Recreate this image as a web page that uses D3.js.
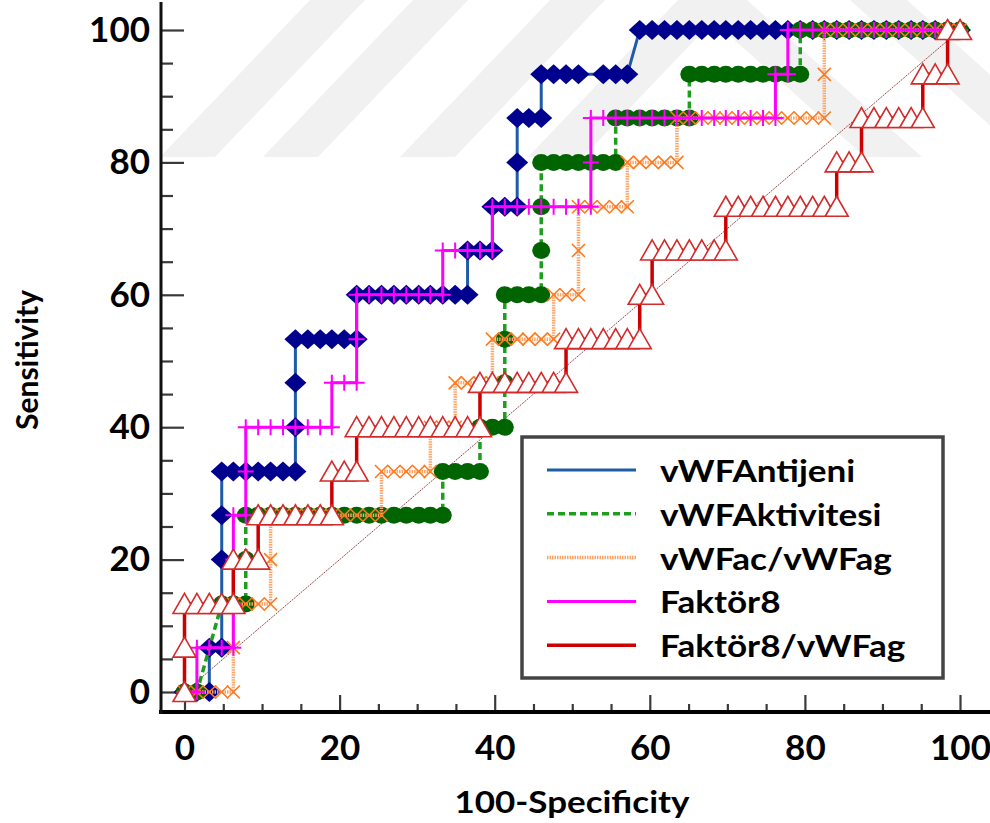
<!DOCTYPE html>
<html>
<head>
<meta charset="utf-8">
<script src="https://cdn.jsdelivr.net/npm/d3@7"></script>
<style>
body{margin:0;background:#fff;}
svg{display:block;}
text{font-family:Lato,'Open Sans',sans-serif;font-weight:bold;fill:#000;}
</style>
</head>
<body>
<div id="chart"></div>
<script>
//DATA (x = 100-Specificity, y = Sensitivity)
var vwfAntijeni = [[0,0],[1.6,0],[3.2,0],[3.2,6.7],[4.8,6.7],[4.8,13.3],[4.8,20],[4.8,26.7],[4.8,33.3],[6.3,33.3],[7.9,33.3],[9.5,33.3],[11.1,33.3],[12.7,33.3],[14.3,33.3],[14.3,40],[14.3,46.7],[14.3,53.3],[15.9,53.3],[17.5,53.3],[19,53.3],[20.6,53.3],[22.2,53.3],[22.2,60],[23.8,60],[25.4,60],[27,60],[28.6,60],[30.2,60],[31.7,60],[33.3,60],[34.9,60],[36.5,60],[36.5,66.7],[38.1,66.7],[39.7,66.7],[39.7,73.3],[41.3,73.3],[42.9,73.3],[42.9,80],[42.9,86.7],[44.4,86.7],[46,86.7],[46,93.3],[47.6,93.3],[49.2,93.3],[50.8,93.3],[54,93.3],[55.6,93.3],[57.1,93.3],[58.7,100],[60.3,100],[61.9,100],[63.5,100],[65.1,100],[66.7,100],[68.3,100],[69.8,100],[71.4,100],[73,100],[74.6,100],[76.2,100],[77.8,100],[79.4,100],[81,100],[82.5,100],[84.1,100],[85.7,100],[87.3,100],[88.9,100],[90.5,100],[92.1,100],[93.7,100],[95.2,100],[96.8,100],[98.4,100],[100,100]];

var vwfAktivitesi = [[0,0],[1.6,0],[4.8,13.3],[6.3,13.3],[7.9,13.3],[7.9,20],[7.9,26.7],[9.5,26.7],[11.1,26.7],[12.7,26.7],[14.3,26.7],[15.9,26.7],[17.5,26.7],[19,26.7],[20.6,26.7],[22.2,26.7],[23.8,26.7],[25.4,26.7],[27,26.7],[28.6,26.7],[30.2,26.7],[31.7,26.7],[33.3,26.7],[33.3,33.3],[34.9,33.3],[36.5,33.3],[38.1,33.3],[38.1,40],[39.7,40],[41.3,40],[41.3,46.7],[41.3,53.3],[41.3,60],[42.9,60],[44.4,60],[46,60],[46,66.7],[46,73.3],[46,80],[47.6,80],[49.2,80],[50.8,80],[52.4,80],[54,80],[55.6,80],[55.6,86.7],[57.1,86.7],[58.7,86.7],[60.3,86.7],[61.9,86.7],[63.5,86.7],[65.1,86.7],[65.1,93.3],[66.7,93.3],[68.3,93.3],[69.8,93.3],[71.4,93.3],[73,93.3],[74.6,93.3],[76.2,93.3],[77.8,93.3],[79.4,93.3],[79.4,100],[81,100],[82.5,100],[84.1,100],[85.7,100],[87.3,100],[88.9,100],[90.5,100],[92.1,100],[93.7,100],[95.2,100],[96.8,100],[98.4,100],[100,100]];

var vwfAcAg = [[0,0],[1.6,0],[3.2,0],[4.8,0],[6.3,0],[6.3,6.7],[6.3,13.3],[7.9,13.3],[9.5,13.3],[11.1,13.3],[11.1,20],[11.1,26.7],[12.7,26.7],[14.3,26.7],[15.9,26.7],[17.5,26.7],[19,26.7],[20.6,26.7],[22.2,26.7],[23.8,26.7],[25.4,26.7],[25.4,33.3],[27,33.3],[28.6,33.3],[30.2,33.3],[31.7,33.3],[31.7,40],[33.3,40],[34.9,40],[34.9,46.7],[36.5,46.7],[38.1,46.7],[39.7,46.7],[39.7,53.3],[41.3,53.3],[42.9,53.3],[44.4,53.3],[46,53.3],[47.6,53.3],[47.6,60],[49.2,60],[50.8,60],[50.8,66.7],[50.8,73.3],[52.4,73.3],[54,73.3],[55.6,73.3],[57.1,73.3],[57.1,80],[58.7,80],[60.3,80],[61.9,80],[63.5,80],[63.5,86.7],[65.1,86.7],[66.7,86.7],[68.3,86.7],[69.8,86.7],[71.4,86.7],[73,86.7],[74.6,86.7],[76.2,86.7],[77.8,86.7],[79.4,86.7],[81,86.7],[82.5,86.7],[82.5,93.3],[82.5,100],[84.1,100],[85.7,100],[87.3,100],[88.9,100],[90.5,100],[92.1,100],[93.7,100],[95.2,100],[96.8,100],[98.4,100],[100,100]];

var faktor8 = [[0,0],[1.6,0],[1.6,6.7],[3.2,6.7],[4.8,6.7],[6.3,6.7],[6.3,13.3],[6.3,20],[6.3,26.7],[7.9,26.7],[7.9,33.3],[7.9,40],[9.5,40],[11.1,40],[12.7,40],[14.3,40],[15.9,40],[17.5,40],[19,40],[19,46.7],[20.6,46.7],[22.2,46.7],[22.2,53.3],[22.2,60],[23.8,60],[25.4,60],[27,60],[28.6,60],[30.2,60],[31.7,60],[33.3,60],[33.3,66.7],[34.9,66.7],[36.5,66.7],[38.1,66.7],[39.7,66.7],[39.7,73.3],[41.3,73.3],[42.9,73.3],[44.4,73.3],[46,73.3],[47.6,73.3],[49.2,73.3],[50.8,73.3],[52.4,73.3],[52.4,80],[52.4,86.7],[54,86.7],[55.6,86.7],[57.1,86.7],[58.7,86.7],[60.3,86.7],[61.9,86.7],[63.5,86.7],[65.1,86.7],[66.7,86.7],[68.3,86.7],[69.8,86.7],[71.4,86.7],[73,86.7],[74.6,86.7],[76.2,86.7],[76.2,93.3],[77.8,93.3],[77.8,100],[79.4,100],[81,100],[82.5,100],[84.1,100],[85.7,100],[87.3,100],[88.9,100],[90.5,100],[92.1,100],[93.7,100],[95.2,100],[96.8,100],[98.4,100],[100,100]];

var faktor8Ag = [[0,0],[0,6.7],[0,13.3],[1.6,13.3],[3.2,13.3],[4.8,13.3],[6.3,13.3],[6.3,20],[7.9,20],[9.5,20],[9.5,26.7],[11.1,26.7],[12.7,26.7],[14.3,26.7],[15.9,26.7],[17.5,26.7],[19,26.7],[19,33.3],[20.6,33.3],[22.2,33.3],[22.2,40],[23.8,40],[25.4,40],[27,40],[28.6,40],[30.2,40],[31.7,40],[33.3,40],[34.9,40],[36.5,40],[38.1,40],[38.1,46.7],[39.7,46.7],[41.3,46.7],[42.9,46.7],[44.4,46.7],[46,46.7],[47.6,46.7],[49.2,46.7],[49.2,53.3],[50.8,53.3],[52.4,53.3],[54,53.3],[55.6,53.3],[57.1,53.3],[58.7,53.3],[58.7,60],[60.3,60],[60.3,66.7],[61.9,66.7],[63.5,66.7],[65.1,66.7],[66.7,66.7],[68.3,66.7],[69.8,66.7],[69.8,73.3],[71.4,73.3],[73,73.3],[74.6,73.3],[76.2,73.3],[77.8,73.3],[79.4,73.3],[81,73.3],[82.5,73.3],[84.1,73.3],[84.1,80],[85.7,80],[87.3,80],[87.3,86.7],[88.9,86.7],[90.5,86.7],[92.1,86.7],[93.7,86.7],[95.2,86.7],[95.2,93.3],[96.8,93.3],[98.4,93.3],[98.4,100],[100,100]];

var seriesNames = ['vWFAntijeni','vWFAktivitesi','vWFac/vWFag','Faktör8','Faktör8/vWFag'];
var diagonal = [[0,0],[100,100]];

var xMajorTicks = [0,20,40,60,80,100];
var xMinorTicks = [5,10,15,25,30,35,45,50,55,65,70,75,85,90,95];
var yMajorTicks = [0,20,40,60,80,100];
var yMinorTicks = [5,10,15,25,30,35,45,50,55,65,70,75,85,90,95];

//STYLES
var series = [
	{name: seriesNames[0], data: vwfAntijeni, line: '#1f5ca8', dash: null, width: 3,
	 mark: 'M0,-10L11,0L0,10L-11,0Z', mFill: '#00008f', mStroke: 'none', mWidth: 0},
	{name: seriesNames[1], data: vwfAktivitesi, line: '#1e9e1e', dash: '7,4', width: 3.5,
	 mark: 'circle', mFill: '#006400', mStroke: 'none', mWidth: 0},
	{name: seriesNames[2], data: vwfAcAg, line: '#ffa366', dash: '1.5,1', width: 3.5,
	 mark: 'M-6.5,-6.5L6.5,6.5M6.5,-6.5L-6.5,6.5', mFill: 'none', mStroke: '#ff7a1f', mWidth: 1.6},
	{name: seriesNames[3], data: faktor8, line: '#ff00ff', dash: null, width: 3,
	 mark: 'M-8,0H8M0,-8V8', mFill: 'none', mStroke: '#ff00ff', mWidth: 2},
	{name: seriesNames[4], data: faktor8Ag, line: '#cc0000', dash: null, width: 3.5,
	 mark: 'M0,-10.5L11.5,9.5L-11.5,9.5Z', mFill: '#fff', mStroke: '#d42a2a', mWidth: 1.6}
];

var W = 990, H = 823;

var svg = d3.select('#chart').append('svg')
	.attr('width', W)
	.attr('height', H);

//SCALES
var x = d3.scaleLinear().domain([0,100]).range([184.5,960]);
var y = d3.scaleLinear().domain([0,100]).range([692,30]);

//WATERMARK (faint chevron bands)
var wm = svg.append('g').attr('fill', '#f1f1f1');
[160,263,400,528].forEach(function(bx){
	wm.append('polygon')
	.attr('points', [[bx,157],[bx+55,157],[bx+205,0],[bx+150,0]].join(' '));
});
[690,850].forEach(function(tx){
	wm.append('polygon')
	.attr('points', [[tx,0],[tx+57,0],[tx+232,157],[tx+175,157]].join(' '));
});

//AXES
var xAxisG = svg.append('g').attr('transform','translate(0,712)');
xAxisG.call(d3.axisBottom(x).tickValues(xMinorTicks).tickSize(-8).tickFormat(''));
xAxisG.append('g').call(d3.axisBottom(x).tickValues(xMajorTicks).tickSize(-17).tickPadding(23).tickFormat(d3.format('d')));

var yAxisG = svg.append('g').attr('transform','translate(161,0)');
yAxisG.call(d3.axisLeft(y).tickValues(yMinorTicks).tickSize(-12).tickFormat(''));
yAxisG.append('g').call(d3.axisLeft(y).tickValues(yMajorTicks).tickSize(-23).tickPadding(11).tickFormat(d3.format('d')));

svg.selectAll('.domain').remove();
svg.selectAll('.tick line').attr('stroke','#3a3a3a').attr('stroke-width',2.2);
svg.selectAll('.tick text')
	.style('font-family','Lato, sans-serif')
	.style('font-weight','bold')
	.style('font-size','35px')
	.attr('fill','#000');

svg.append('line')
	.attr('x1',159).attr('x2',W)
	.attr('y1',712).attr('y2',712)
	.attr('stroke','#000').attr('stroke-width',4);
svg.append('line')
	.attr('x1',161).attr('x2',161)
	.attr('y1',2).attr('y2',714)
	.attr('stroke','#111').attr('stroke-width',3);

//TITLES
svg.append('text')
	.attr('x',572).attr('y',813)
	.attr('text-anchor','middle')
	.attr('textLength',235).attr('lengthAdjust','spacingAndGlyphs')
	.style('font-size','30px')
	.text('100-Specificity');

svg.append('text')
	.attr('transform','translate(38,360) rotate(-90)')
	.attr('text-anchor','middle')
	.attr('textLength',140).attr('lengthAdjust','spacingAndGlyphs')
	.style('font-size','31px')
	.text('Sensitivity');

//REFERENCE LINE
var line = d3.line()
	.x(function(d){ return x(d[0]); })
	.y(function(d){ return y(d[1]); });

svg.append('path')
	.attr('d', line(diagonal))
	.attr('fill','none')
	.attr('stroke','#a04848')
	.attr('stroke-width',1)
	.attr('stroke-dasharray','2,1');

//CURVES
series.forEach(function(s){
	var g = svg.append('g');

	g.append('path')
	.attr('d', line(s.data))
	.attr('fill','none')
	.attr('stroke', s.line)
	.attr('stroke-width', s.width)
	.attr('stroke-dasharray', s.dash);

	if(s.mark === 'circle'){
		g.selectAll('ellipse')
		.data(s.data)
		.enter()
		.append('ellipse')
		.attr('cx', function(d){ return x(d[0]); })
		.attr('cy', function(d){ return y(d[1]); })
		.attr('rx', 9)
		.attr('ry', 8.5)
		.attr('fill', s.mFill);
	}else{
		g.selectAll('path.m')
		.data(s.data)
		.enter()
		.append('path')
		.attr('class','m')
		.attr('d', s.mark)
		.attr('transform', function(d){ return 'translate(' + x(d[0]) + ',' + y(d[1]) + ')'; })
		.attr('fill', s.mFill)
		.attr('stroke', s.mStroke)
		.attr('stroke-width', s.mWidth);
	}
});

//LEGEND
var legend = svg.append('g');
legend.append('rect')
	.attr('x',522).attr('y',437)
	.attr('width',421).attr('height',241)
	.attr('fill','#fff')
	.attr('stroke','#444')
	.attr('stroke-width',3.5);

series.forEach(function(s,i){
	var ly = 470 + i*43.8;
	legend.append('line')
	.attr('x1',547).attr('x2',636)
	.attr('y1',ly).attr('y2',ly)
	.attr('stroke', s.line)
	.attr('stroke-width', s.width)
	.attr('stroke-dasharray', s.dash);

	legend.append('text')
	.attr('transform','translate(660,' + (ly + 12) + ') scale(1.17,1)')
	.style('font-size','30px')
	.text(s.name);
});
</script>
</body>
</html>
